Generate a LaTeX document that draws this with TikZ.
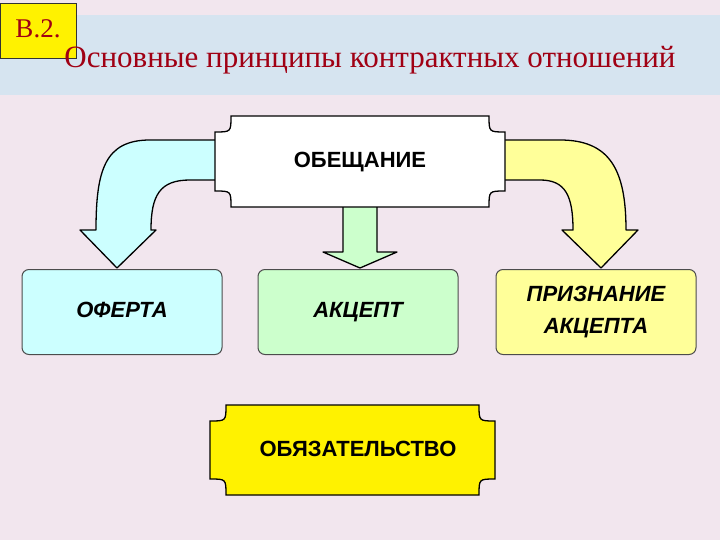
\documentclass[tikz,border=0pt]{standalone}
\usepackage{fontspec}
\setmainfont{Liberation Serif}
\setsansfont{Liberation Sans}
\begin{document}
\begin{tikzpicture}[x=1pt,y=-1pt,
  arr/.style={draw=black,line width=1.3pt,line join=round},
  rbox/.style={draw=black!70,line width=1pt,rounded corners=7pt,minimum width=200pt,minimum height=85pt,font=\sffamily\bfseries\itshape\fontsize{22}{32}\selectfont,align=center},
  onel/.style={text height=16pt,text depth=5pt},
  plaquetext/.style={font=\sffamily\bfseries\fontsize{22}{26}\selectfont}]
\useasboundingbox (0,0) rectangle (720,540);
\fill[color={rgb,255:red,242;green,230;blue,238}] (0,0) rectangle (720,540);
\fill[color={rgb,255:red,214;green,228;blue,240}] (0,15) rectangle (720,95);
\node[draw=black!80,fill=yellow,minimum width=76pt,minimum height=55pt,anchor=north west,inner sep=0pt] (b2) at (0,3) {};
\node[font=\fontsize{27}{30}\selectfont,text={rgb,255:red,160;green,0;blue,20}] (b2t) at (38,29) {B.2.};
\node[font=\fontsize{31}{34}\selectfont,text={rgb,255:red,160;green,0;blue,20}] (title) at (370,60) {Основные принципы контрактных отношений};
% arrows
\filldraw[arr,fill={rgb,255:red,204;green,255;blue,255}] (215,140) -- (150,140) .. controls (105,140) and (96,170) .. (96,230) -- (80,230) -- (117,268) -- (156,230) -- (151,230) .. controls (151,195) and (160,180) .. (190,180) -- (215,180);
\filldraw[arr,fill={rgb,255:red,255;green,255;blue,153}] (502,140) -- (560,140) .. controls (610,140) and (626,170) .. (626,230) -- (638,230) -- (601,268) -- (562,230) -- (573,230) .. controls (573,195) and (565,180) .. (540,180) -- (502,180);
\filldraw[arr,fill={rgb,255:red,204;green,255;blue,204}] (343,205) -- (377,205) -- (377,252) -- (397,252) -- (360,268) -- (323,252) -- (343,252) -- cycle;
% plaque top
\filldraw[draw=black,line width=1.3pt,fill=white] (231,116) -- (489,116) .. controls (489,132) .. (505,132) -- (505,191) .. controls (489,191) .. (489,207) -- (231,207) .. controls (231,191) .. (215,191) -- (215,132) .. controls (231,132) .. (231,116) -- cycle;
\node[plaquetext,onel] (ob) at (360,162) {ОБЕЩАНИЕ};
% boxes
\node[rbox,onel,fill={rgb,255:red,204;green,255;blue,255}] (of) at (122,312) {ОФЕРТА};
\node[rbox,onel,fill={rgb,255:red,204;green,255;blue,204}] (ak) at (358,312) {АКЦЕПТ};
\node[rbox,fill={rgb,255:red,255;green,255;blue,153}] (pr) at (596,312) {ПРИЗНАНИЕ\\АКЦЕПТА};
% plaque bottom
\filldraw[draw=black,line width=1.3pt,fill=yellow] (226,405) -- (479,405) .. controls (479,421) .. (495,421) -- (495,479) .. controls (479,479) .. (479,495) -- (226,495) .. controls (226,479) .. (210,479) -- (210,421) .. controls (226,421) .. (226,405) -- cycle;
\node[plaquetext,onel] (obz) at (358,451) {ОБЯЗАТЕЛЬСТВО};
\end{tikzpicture}
\end{document}
